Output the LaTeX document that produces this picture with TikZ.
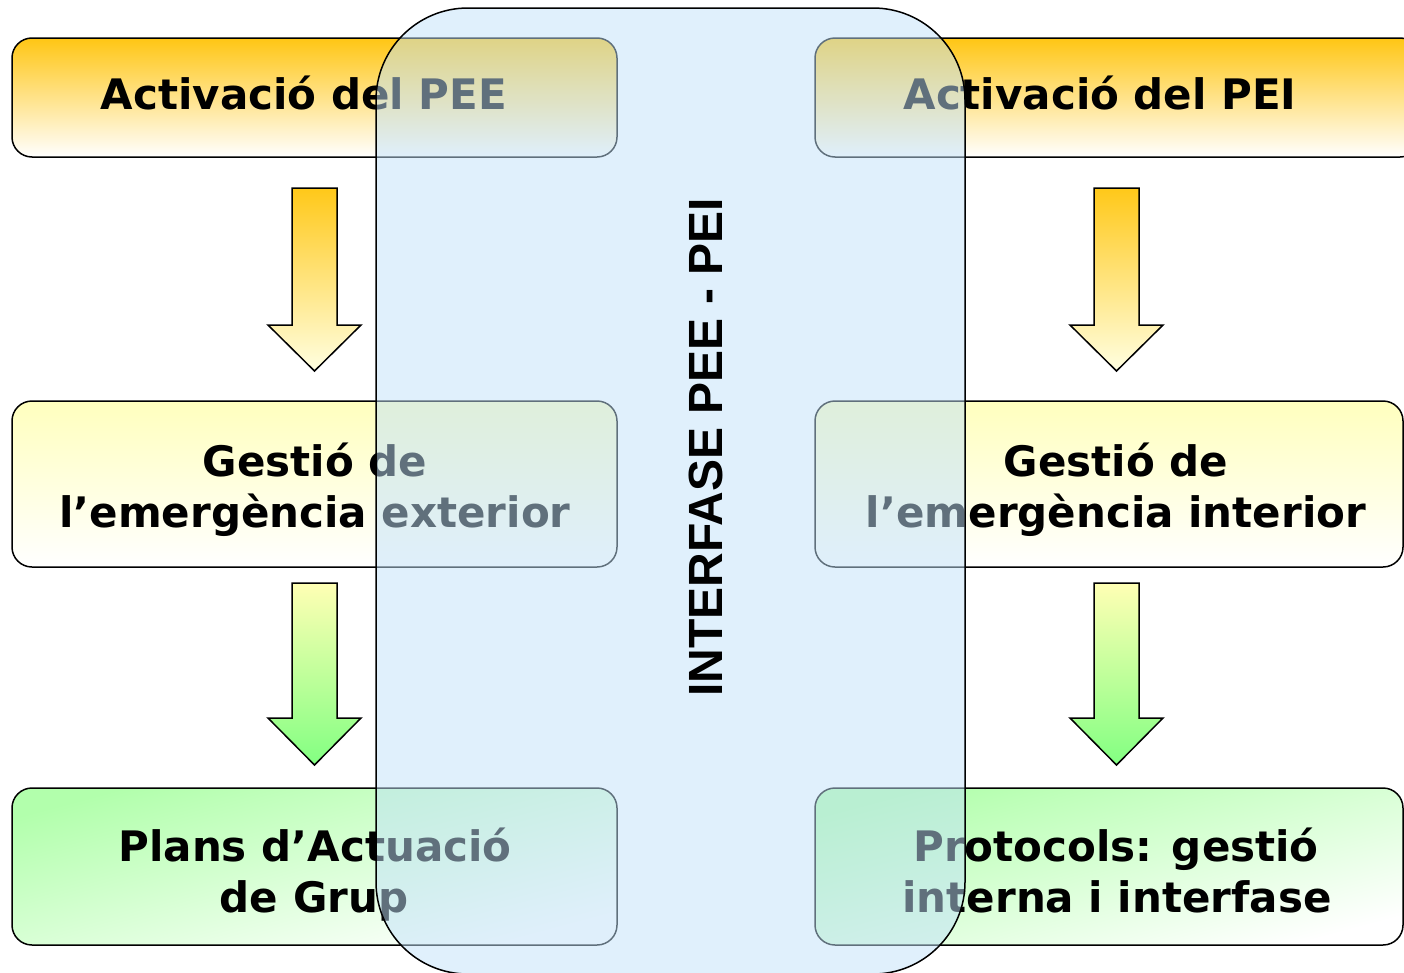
\documentclass[tikz,border=0pt]{standalone}
\usepackage{fontspec}
\setmainfont{DejaVu Sans}
\newfontfamily\vertfont{Liberation Sans}
\definecolor{orangetop}{RGB}{255,198,20}
\definecolor{yellowtop}{RGB}{255,255,190}
\definecolor{greentop}{RGB}{178,255,172}
\definecolor{greenbot}{RGB}{255,255,255}
\definecolor{arrA}{RGB}{255,200,25}
\definecolor{arrB}{RGB}{255,255,225}
\definecolor{arrC}{RGB}{255,255,180}
\definecolor{arrD}{RGB}{130,255,130}
\definecolor{ifblue}{RGB}{193,225,249}
\tikzset{
  box/.style={draw=black, line width=1.5pt, rounded corners=20pt, inner sep=0pt},
  lbox/.style={box, minimum width=605pt},
  rbox/.style={box, minimum width=588pt},
  orangebox/.style={minimum height=119pt, top color=orangetop, bottom color=white},
  yellowbox/.style={minimum height=166pt, top color=yellowtop, bottom color=white},
  greenbox/.style={minimum height=157pt, top color=greentop, bottom color=greenbot, shading angle=15},
  lbl/.style={font=\fontsize{42}{51}\selectfont\bfseries, inner sep=0pt, anchor=base},
  arrowline/.style={draw=black, line width=1.5pt, line join=miter},
  arrowtop/.style={arrowline, top color=arrA, bottom color=arrB},
  arrowbot/.style={arrowline, top color=arrC, bottom color=arrD},
  iface/.style={draw=black, line width=1.5pt, fill=ifblue, fill opacity=0.5,
    draw opacity=1, rounded corners=92pt, minimum width=589pt, minimum height=966pt, inner sep=0pt},
  vlbl/.style={font=\vertfont\fontsize{48}{56}\selectfont\bfseries, inner sep=0pt, anchor=base, rotate=90}
}
\newcommand\blockdown[6]{% name, x, top y, head y, tip y, style
  \path[#6] (#2-22.5,#3) coordinate (#1-top) -- (#2+22.5,#3) -- (#2+22.5,#4) -- (#2+46.5,#4)
    -- (#2,#5) coordinate (#1-tip) -- (#2-46.5,#4) -- (#2-22.5,#4) -- cycle;}
\begin{document}
\begin{tikzpicture}[x=1pt,y=-1pt]
\useasboundingbox (0,0) rectangle (1404,972);
% boxes
\node[lbox, orangebox] (pee) at (314.5,97.5) {};
\node[lbox, yellowbox] (gext) at (314.5,484) {};
\node[lbox, greenbox] (pag) at (314.5,866.5) {};
\node[lbox, orangebox] (pei) at (1117.5,97.5) {};
\node[rbox, yellowbox] (gint) at (1109,484) {};
\node[rbox, greenbox] (prot) at (1109,866.5) {};
% block arrows
\blockdown{a1}{314.5}{188}{325}{371}{arrowtop}
\blockdown{a2}{314.5}{583}{718}{765}{arrowbot}
\blockdown{a3}{1116.5}{188}{325}{371}{arrowtop}
\blockdown{a4}{1116.5}{583}{718}{765}{arrowbot}
% labels
\node[lbl] (t1) at (304,109) {Activació del PEE};
\node[lbl] (t2a) at (315,476) {Gestió de};
\node[lbl] (t2b) at (315,527) {l’emergència exterior};
\node[lbl] (t3a) at (315,861) {Plans d’Actuació};
\node[lbl] (t3b) at (314,912) {de Grup};
\node[lbl] (u1) at (1100,109) {Activació del PEI};
\node[lbl] (u2a) at (1116,476) {Gestió de};
\node[lbl] (u2b) at (1116,527) {l’emergència interior};
\node[lbl] (u3a) at (1116,861) {Protocols: gestió};
\node[lbl] (u3b) at (1117,912) {interna i interfase};
% interface overlay
\node[iface] (ifc) at (670.5,491) {};
\node[vlbl] (vt) at (722,447.5) {INTERFASE PEE - PEI};
\end{tikzpicture}
\end{document}
